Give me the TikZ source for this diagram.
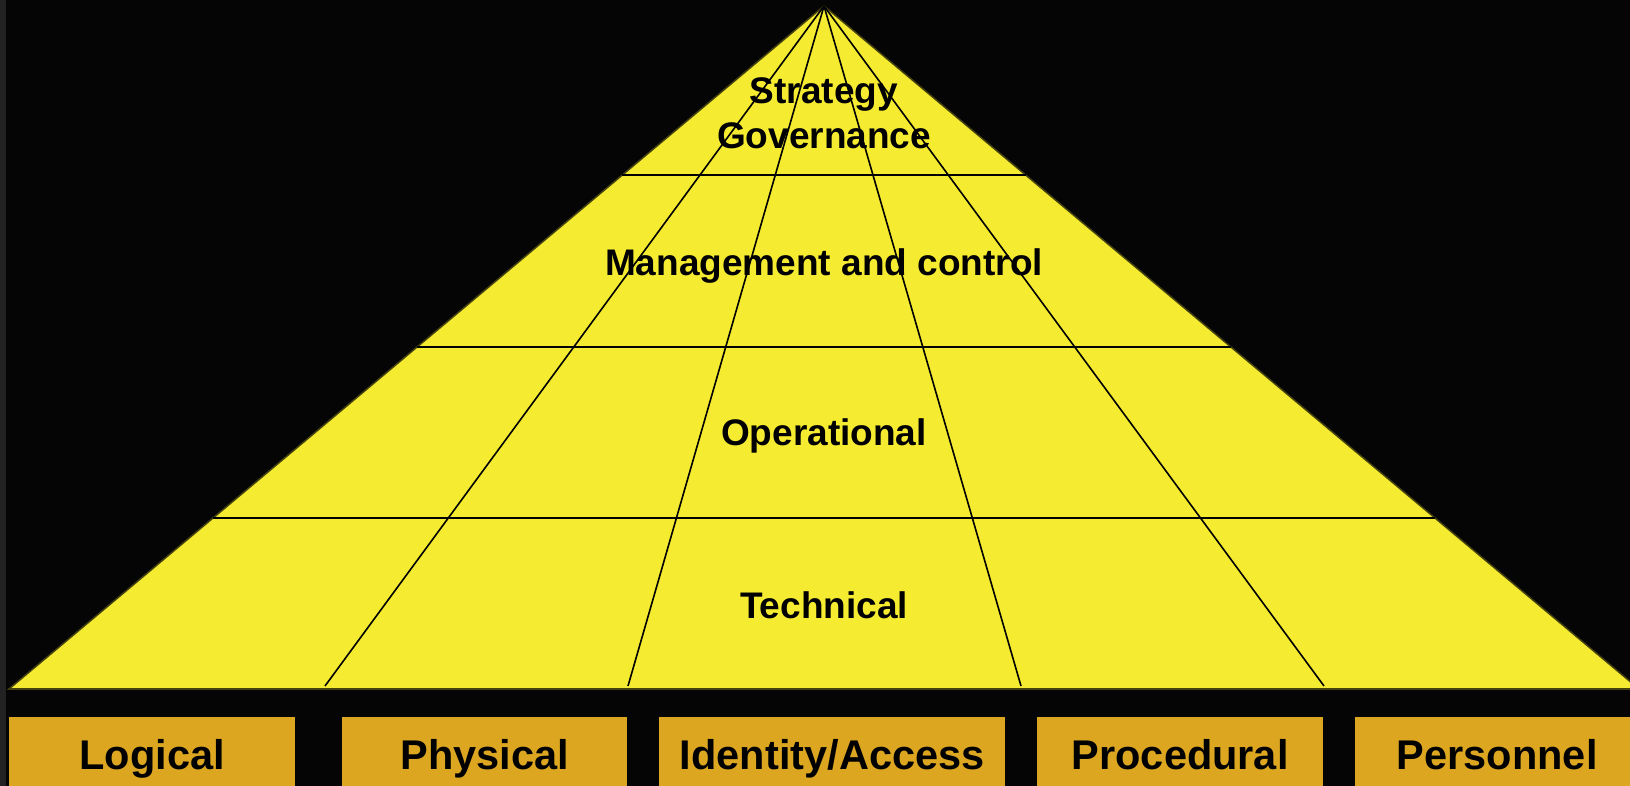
\documentclass[tikz,border=0pt]{standalone}
\usepackage{fontspec}
\setmainfont{Liberation Sans}
\usetikzlibrary{calc}
\definecolor{bgblack}{HTML}{050505}
\definecolor{stripgray}{HTML}{222222}
\definecolor{pyryellow}{HTML}{F5EB30}
\definecolor{pyredge}{HTML}{45420F}
\definecolor{boxgold}{HTML}{DCA620}
\tikzset{
  layerlabel/.style={anchor=base, font=\fontsize{37}{46}\selectfont\bfseries, text=black, inner sep=0pt},
  pillar/.style={anchor=north west, fill=boxgold, draw=none, inner xsep=0pt, inner ysep=0pt,
                 text height=52pt, text depth=30pt, align=center,
                 font=\fontsize{41.5}{48}\selectfont\bfseries, text=black},
  gridline/.style={draw=black, line width=1.6pt},
}
\begin{document}
\begin{tikzpicture}[x=1pt,y=-1pt]
\useasboundingbox (0,0) rectangle (1630,786);
\fill[bgblack] (0,0) rectangle (1630,786);
\fill[stripgray] (0,0) rectangle (6,786);
% pyramid
\coordinate (apex) at (824,6);
\coordinate (L) at (9,689);
\coordinate (R) at (1639,689);
\filldraw[fill=pyryellow, draw=pyredge, line width=1.5pt] (apex) -- (L) -- (R) -- cycle;
% horizontal layer lines
\foreach \f/\n in {0.2474/a,0.4993/b,0.7496/c}{
  \coordinate (hl\n) at ($(apex)!\f!(L)$);
  \coordinate (hr\n) at ($(apex)!\f!(R)$);
  \draw[gridline] (hl\n) -- (hr\n);
}
\draw[pyredge, line width=1.5pt] (L) -- (R);
% radial lines
\coordinate (r1) at (325,686);
\coordinate (r2) at (628,686);
\coordinate (r3) at (1021,686);
\coordinate (r4) at (1324,686);
\foreach \r in {r1,r2,r3,r4}{ \draw[gridline] (apex) -- (\r); }
% layer labels
\node[layerlabel] (strategy) at (824,104) {Strategy};
\node[layerlabel] (governance) at (824,149) {Governance};
\node[layerlabel] (management) at (824,276) {Management and control};
\node[layerlabel] (operational) at (824,445) {Operational};
\node[layerlabel] (technical) at (824,618) {Technical};
% pillars
\node[pillar, minimum width=286pt] (logical) at (9,717) {Logical};
\node[pillar, minimum width=285pt] (physical) at (342,717) {Physical};
\node[pillar, minimum width=346pt] (identity) at (659,717) {Identity/Access};
\node[pillar, minimum width=286pt] (procedural) at (1037,717) {Procedural};
\node[pillar, minimum width=284pt] (personnel) at (1355,717) {Personnel};
\end{tikzpicture}
\end{document}
